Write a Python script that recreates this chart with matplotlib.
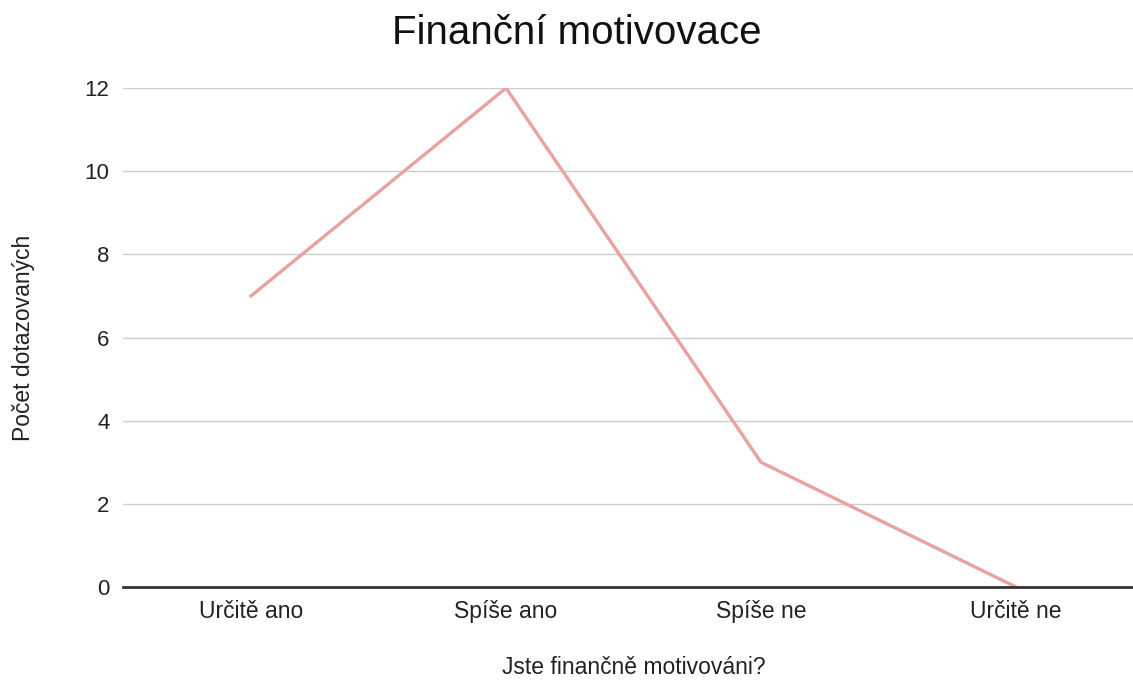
import matplotlib.pyplot as plt

categories = ['Určitě ano', 'Spíše ano', 'Spíše ne', 'Určitě ne']
counts = [7, 12, 3, 0]
yticks = [0, 2, 4, 6, 8, 10, 12]

plt.rcParams['font.family'] = ['Liberation Sans', 'DejaVu Sans']

fig = plt.figure(figsize=(11.33, 6.81), dpi=100)
ax = fig.add_axes([0.109, 0.138, 0.9003, 0.7327])

x = range(len(categories))
ax.plot(x, counts, color='#e8a2a0', linewidth=2.4, solid_joinstyle='miter')

ax.set_xlim(-0.5, len(categories) - 0.5)
ax.set_ylim(0, 12)
ax.set_xticks(list(x))
ax.set_xticklabels(categories, fontsize=16.5, color='#222222')
ax.set_yticks(yticks)
ax.set_yticklabels([str(v) for v in yticks], fontsize=16, color='#222222')
ax.tick_params(axis='x', length=0, pad=9)
ax.tick_params(axis='y', length=0, pad=10)

ax.grid(axis='y', color='#cccccc', linewidth=1)
ax.set_axisbelow(True)
for side in ['top', 'right', 'left']:
    ax.spines[side].set_visible(False)
ax.spines['bottom'].set_color('#333333')
ax.spines['bottom'].set_linewidth(2)
ax.spines['bottom'].set_zorder(3)

ax.set_xlabel('Jste finančně motivováni?', fontsize=16.5, color='#222222', labelpad=24)
ax.set_ylabel('Počet dotazovaných', fontsize=16.5, color='#222222', labelpad=36)
fig.text(0.509, 0.952, 'Finanční motivovace', fontsize=29, ha='center', va='center', color='#111111')

fig.savefig('out.png', dpi=100)
